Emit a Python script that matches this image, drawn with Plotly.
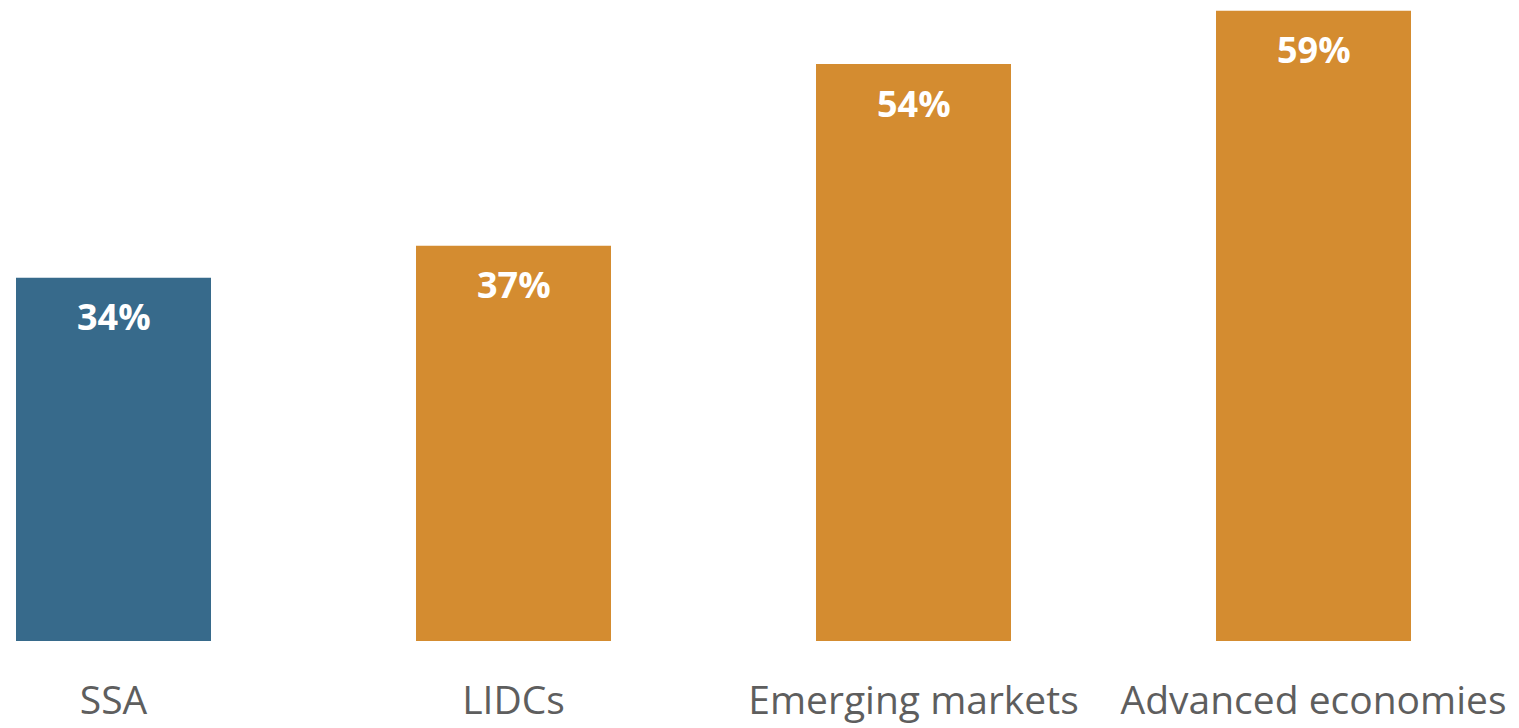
import plotly.graph_objects as go

categories = ["SSA", "LIDCs", "Emerging markets", "Advanced economies"]
shares = [34, 37, 54, 59]
bar_colors = ["#376A8B", "#D48C30", "#D48C30", "#D48C30"]
pct_labels = [f"{v}%" for v in shares]

positions = list(range(len(categories)))

fig = go.Figure()
fig.add_trace(go.Bar(
    x=positions,
    y=shares,
    width=0.4875,
    marker=dict(color=bar_colors, line=dict(width=0)),
    hoverinfo="skip",
))

for x, v, lab in zip(positions, shares, pct_labels):
    fig.add_annotation(
        x=x, y=v, text=f"<b>{lab}</b>", showarrow=False,
        yanchor="middle", yshift=-39,
        font=dict(family="Open Sans", size=36, color="#FFFFFF"),
    )

fig.update_layout(
    width=1519, height=728,
    margin=dict(l=0, r=0, t=0, b=87),
    plot_bgcolor="#FFFFFF", paper_bgcolor="#FFFFFF",
    showlegend=False,
    xaxis=dict(
        range=[-0.28375, 3.51375],
        tickmode="array", tickvals=positions, ticktext=categories,
        tickfont=dict(family="Open Sans", size=39, color="#5E5E5E"),
        showgrid=False, zeroline=False, showline=False, ticks="",
        ticklabelstandoff=33, automargin=False,
    ),
    yaxis=dict(
        range=[0, 60.0], visible=False, showgrid=False, zeroline=False,
        automargin=False,
    ),
)

fig.write_html("out.html")
